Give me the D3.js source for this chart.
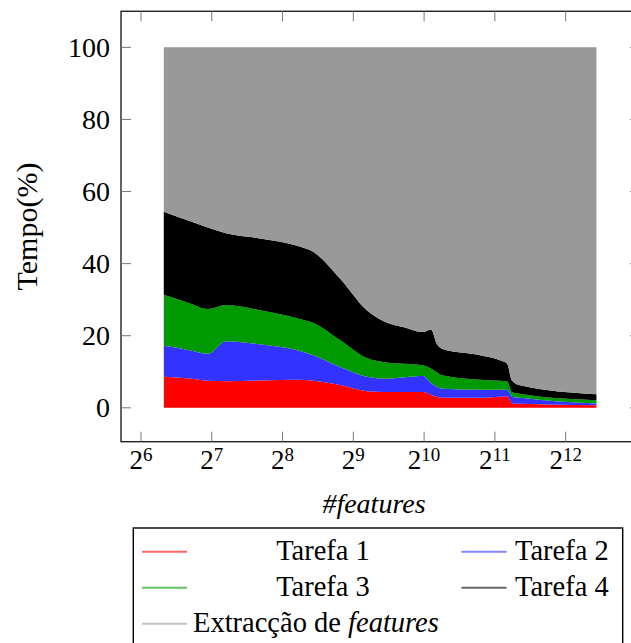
<!DOCTYPE html>
<html>
<head>
<meta charset="utf-8">
<script src="https://cdn.jsdelivr.net/npm/d3@7"></script>
<style>
  body { margin: 0; background: #fff; }
</style>
</head>
<body>
<svg id="chart" width="631" height="643"></svg>
<script>
// #features (x) and time share (%) of each stage
const features = [80, 103, 123, 147, 205, 298, 345, 449, 584, 685, 849, 1013, 1095, 1162, 1220, 1769, 2152, 2306, 2421, 2619, 5537]
const tarefa1 = [8.6, 8.1, 7.5, 7.4, 7.6, 7.8, 7.5, 6.3, 4.6, 4.4, 4.4, 4.4, 3.6, 3.0, 2.8, 2.8, 3.1, 3.2, 1.3, 1.1, 0.7]
const tarefa2 = [8.6, 7.9, 7.5, 11.1, 10.0, 8.1, 7.1, 5.0, 4.0, 3.7, 4.1, 4.4, 3.2, 2.8, 2.5, 2.2, 1.9, 1.8, 1.8, 1.7, 0.5]
const tarefa3 = [14.2, 13.0, 12.4, 10.0, 9.5, 8.9, 9.0, 7.5, 5.2, 4.6, 3.7, 3.0, 4.1, 4.0, 3.7, 2.8, 2.5, 2.4, 1.2, 1.1, 0.9]
const tarefa4 = [23.0, 22.8, 22.6, 19.9, 19.9, 20.1, 19.7, 17.1, 13.3, 11.4, 10.1, 9.2, 10.8, 7.8, 7.4, 6.8, 5.7, 4.9, 3.3, 2.35, 1.65]
const extraccao = [45.6, 48.2, 50.0, 51.6, 53.0, 55.1, 56.7, 64.1, 72.9, 75.9, 77.7, 79.0, 78.3, 82.4, 83.6, 85.4, 86.8, 87.7, 92.4, 93.75, 96.25]

const seriesKeys = ['t1', 't2', 't3', 't4', 'ext']
const seriesLabels = ['Tarefa 1', 'Tarefa 2', 'Tarefa 3', 'Tarefa 4', 'Extracção de features']
const yTicks = [0, 20, 40, 60, 80, 100]
const xTickExps = [6, 7, 8, 9, 10, 11, 12]

const fillColors = ['#ff0000', '#3333ff', '#009900', '#000000', '#999999']
const legendColors = ['#ff6666', '#8585ff', '#66c266', '#666666', '#c2c2c2']

const rows = features.map((f, i) => ({
  f: f,
  t1: tarefa1[i],
  t2: tarefa2[i],
  t3: tarefa3[i],
  t4: tarefa4[i],
  ext: extraccao[i],
}))

const svg = d3.select('#chart')

// axis box (right edge falls just outside the picture)
const box = { left: 121, top: 11.3, right: 640, bottom: 441.7 }

const x = d3
  .scaleLog()
  .base(2)
  .domain([Math.pow(2, 5.7174), Math.pow(2, 13.0504)])
  .range([box.left, box.right])

const y = d3.scaleLinear().domain([-9.4, 110]).range([box.bottom, box.top])

const stacked = d3.stack().keys(seriesKeys)(rows)

const area = d3
  .area()
  .x((d) => x(d.data.f))
  .y0((d) => y(d[0]))
  .y1((d) => y(d[1]))
  .curve(d3.curveMonotoneX)

svg
  .append('g')
  .selectAll('path')
  .data(stacked)
  .join('path')
  .attr('d', area)
  .attr('fill', (d, i) => fillColors[i])

// frame
svg
  .append('rect')
  .attr('x', box.left)
  .attr('y', box.top)
  .attr('width', box.right - box.left)
  .attr('height', box.bottom - box.top)
  .attr('fill', 'none')
  .attr('stroke', '#222')
  .attr('stroke-width', 1.4)

// ticks, drawn inside the frame on all four sides
const ticks = svg.append('g').attr('stroke', '#777').attr('stroke-width', 1)
yTicks.forEach((v) => {
  ticks.append('line').attr('x1', box.left).attr('x2', box.left + 10).attr('y1', y(v)).attr('y2', y(v))
  ticks.append('line').attr('x1', box.right - 10).attr('x2', box.right).attr('y1', y(v)).attr('y2', y(v))
})
xTickExps.forEach((e) => {
  const px = x(Math.pow(2, e))
  ticks.append('line').attr('x1', px).attr('x2', px).attr('y1', box.bottom).attr('y2', box.bottom - 10)
  ticks.append('line').attr('x1', px).attr('x2', px).attr('y1', box.top).attr('y2', box.top + 10)
})

// y tick labels
svg
  .append('g')
  .selectAll('text')
  .data(yTicks)
  .join('text')
  .attr('x', 110)
  .attr('y', (d) => y(d) + 9.5)
  .attr('text-anchor', 'end')
  .attr('font-family', 'Liberation Serif')
  .attr('font-size', 28)
  .text((d) => d)

// x tick labels as 2 with superscript exponent
const xLab = svg
  .append('g')
  .selectAll('text')
  .data(xTickExps)
  .join('text')
  .attr('x', (d) => x(Math.pow(2, d)))
  .attr('y', 469)
  .attr('text-anchor', 'middle')
  .attr('font-family', 'Liberation Serif')
  .attr('font-size', 27)
xLab.append('tspan').text('2')
xLab
  .append('tspan')
  .attr('dy', -8)
  .attr('font-size', 19)
  .text((d) => d)

// axis titles
svg
  .append('text')
  .attr('x', 374)
  .attr('y', 513)
  .attr('text-anchor', 'middle')
  .attr('font-family', 'Liberation Serif')
  .attr('font-size', 28)
  .attr('font-style', 'italic')
  .text('#features')

svg
  .append('text')
  .attr('transform', 'translate(36.5,226.5) rotate(-90)')
  .attr('text-anchor', 'middle')
  .attr('font-family', 'Liberation Serif')
  .attr('font-size', 30)
  .text('Tempo(%)')

// legend
const legend = svg.append('g')
legend
  .append('rect')
  .attr('x', 133.3)
  .attr('y', 528)
  .attr('width', 489.4)
  .attr('height', 130)
  .attr('fill', '#fff')
  .attr('stroke', '#000')
  .attr('stroke-width', 1.4)

const legendItems = [
  { i: 0, lx: 142, ly: 551.7, tx: 323, anchor: 'middle' },
  { i: 1, lx: 461.5, ly: 551.7, tx: 515, anchor: 'start' },
  { i: 2, lx: 142, ly: 587.7, tx: 323, anchor: 'middle' },
  { i: 3, lx: 461.5, ly: 587.7, tx: 515, anchor: 'start' },
  { i: 4, lx: 142, ly: 623.7, tx: 193, anchor: 'start' },
]

legendItems.forEach((d) => {
  legend
    .append('line')
    .attr('x1', d.lx)
    .attr('x2', d.lx + 45)
    .attr('y1', d.ly)
    .attr('y2', d.ly)
    .attr('stroke', legendColors[d.i])
    .attr('stroke-width', 2)
  const t = legend
    .append('text')
    .attr('x', d.tx)
    .attr('y', d.ly + 8.5)
    .attr('text-anchor', d.anchor)
    .attr('font-family', 'Liberation Serif')
    .attr('font-size', 28.5)
  if (d.i === 4) {
    t.append('tspan').text('Extracção de ')
    t.append('tspan').attr('font-style', 'italic').text('features')
  } else {
    t.text(seriesLabels[d.i])
  }
})
</script>
</body>
</html>
